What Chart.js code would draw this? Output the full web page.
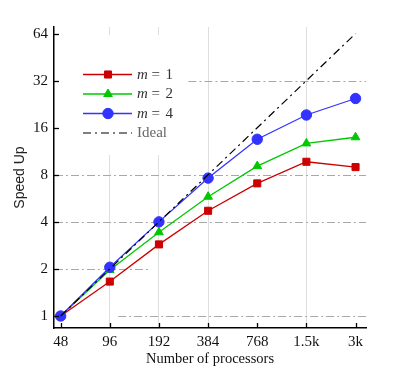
<!DOCTYPE html>
<html>
<head>
<meta charset="utf-8">
<script src="https://cdn.jsdelivr.net/npm/chart.js@4/dist/chart.umd.min.js"></script>
<style>
  html,body{margin:0;padding:0;background:#fff;}
  #wrap{width:415px;height:369px;position:relative;}
</style>
</head>
<body>
<div id="wrap"><canvas id="c" width="415" height="369"></canvas></div>
<script>
// ---- data ----
const procs = [48, 96, 192, 384, 768, 1536, 3072];
const xLabels = ['48', '96', '192', '384', '768', '1.5k', '3k'];
const yTicks = [1, 2, 4, 8, 16, 32, 64];
const speedM1 = [1, 1.66, 2.87, 4.71, 7.05, 9.69, 8.96];
const speedM2 = [1, 1.97, 3.43, 5.79, 9.09, 12.7, 13.9];
const speedM4 = [1, 2.05, 4.0, 7.62, 13.5, 19.3, 24.6];
const speedIdeal = [1, 2, 4, 8, 16, 32, 64];
const seriesNames = ['m = 1', 'm = 2', 'm = 4', 'Ideal'];

const pts = arr => arr.map((v, i) => ({x: procs[i], y: v}));
const SERIF = '"Liberation Serif", "DejaVu Serif", serif';

const RED = '#cc0000', GREEN = '#00c800', BLUE = '#3333ff';

// horizontal dash-dot guides (value, optional x-range in data units)
const guides = [
  {v: 1, from: 108},
  {v: 2, to: 172},
  {v: 4},
  {v: 8},
  {v: 32, from: 291}
];
const vGridAt = [96, 192, 384, 1536];

const deco = {
  id: 'deco',
  beforeDatasetsDraw(chart) {
    const {ctx, chartArea: a, scales: {x, y}} = chart;
    ctx.save();
    ctx.strokeStyle = '#a8a8a8';
    ctx.lineWidth = 1;
    ctx.setLineDash([8, 3, 2, 3]);
    guides.forEach(g => {
      const py = Math.round(y.getPixelForValue(g.v)) + 0.5;
      const x0 = g.from ? x.getPixelForValue(g.from) : a.left + 1;
      const x1 = g.to ? x.getPixelForValue(g.to) : a.right;
      ctx.beginPath(); ctx.moveTo(x0, py); ctx.lineTo(x1, py); ctx.stroke();
    });
    ctx.setLineDash([]);
    // legend box (white, masks grid)
    const L = a.left;
    ctx.fillStyle = '#fff';
    ctx.fillRect(L + 2, 35, 132, 120);
    // legend entries
    const ds = chart.data.datasets;
    const rows = [74.5, 94, 113.5, 133];
    const lx0 = L + 29, lx1 = L + 78, mx = L + 54;
    for (let i = 0; i < 4; i++) {
      const d = ds[i];
      const yy = rows[i];
      ctx.strokeStyle = d.borderColor;
      ctx.lineWidth = d.borderWidth;
      ctx.setLineDash(d.borderDash || []);
      ctx.beginPath(); ctx.moveTo(lx0, yy); ctx.lineTo(lx1, yy); ctx.stroke();
      ctx.setLineDash([]);
      if (d.pointRadius > 0) {
        ctx.fillStyle = d.backgroundColor; ctx.strokeStyle = d.borderColor;
        ctx.lineWidth = 1;
        Chart.helpers.drawPoint(ctx, {pointStyle: d.pointStyle, radius: d.pointRadius, rotation: 0, borderWidth: 1}, mx, yy);
      }
      ctx.textBaseline = 'middle';
      const tx = L + 83;
      if (i < 3) {
        const parts = seriesNames[i].split(' '); // ['m','=','1']
        ctx.fillStyle = '#333';
        ctx.font = 'italic 15px ' + SERIF;
        ctx.textAlign = 'left';
        ctx.fillText(parts[0], tx, yy + 0.5);
        ctx.font = '15px ' + SERIF;
        ctx.fillText(parts[1], tx + 14.5, yy + 0.5);
        ctx.fillText(parts[2], tx + 28.5, yy + 0.5);
      } else {
        ctx.fillStyle = '#666';
        ctx.font = '15px ' + SERIF;
        ctx.textAlign = 'left';
        ctx.fillText(seriesNames[i], tx, yy + 0.5);
      }
    }
    ctx.restore();
  },
  afterDatasetsDraw(chart) {
    const {ctx, chartArea: a, scales: {x, y}} = chart;
    ctx.save();
    ctx.strokeStyle = '#000';
    ctx.lineWidth = 1.3;
    x.ticks.forEach(t => {
      const px = Math.round(x.getPixelForValue(t.value)) + 0.5;
      ctx.beginPath(); ctx.moveTo(px, a.bottom); ctx.lineTo(px, a.bottom - 5); ctx.stroke();
    });
    y.ticks.forEach(t => {
      const py = Math.round(y.getPixelForValue(t.value)) + 0.5;
      ctx.beginPath(); ctx.moveTo(a.left, py); ctx.lineTo(a.left + 5, py); ctx.stroke();
    });
    ctx.restore();
  }
};

const lineDs = (label, data, color, style, r, order) => ({
  label, data: pts(data), borderColor: color, backgroundColor: color,
  borderWidth: 1.3, pointStyle: style, pointRadius: r, pointHoverRadius: r,
  pointBorderWidth: 1, pointBackgroundColor: color, pointBorderColor: color,
  tension: 0, order
});

new Chart(document.getElementById('c'), {
  type: 'line',
  data: {
    datasets: [
      lineDs(seriesNames[0], speedM1, RED, 'rect', 5.0, 3),
      lineDs(seriesNames[1], speedM2, GREEN, 'triangle', 5.0, 2),
      lineDs(seriesNames[2], speedM4, BLUE, 'circle', 5.2, 1),
      Object.assign(lineDs(seriesNames[3], speedIdeal, '#000', 'circle', 0, 0),
        {borderDash: [8, 4, 2, 4], borderWidth: 1.2})
    ]
  },
  options: {
    responsive: false,
    animation: false,
    events: [],
    layout: {padding: {top: 27, right: 49, bottom: 0, left: 0}},
    plugins: {legend: {display: false}, tooltip: {enabled: false}},
    scales: {
      x: {
        type: 'logarithmic',
        min: 43.7, max: 3560,
        afterBuildTicks: s => { s.ticks = procs.map(v => ({value: v})); },
        afterFit: s => { s.height = 41; },
        ticks: {
          autoSkip: false, maxRotation: 0, padding: 5,
          color: '#111', font: {family: SERIF, size: 15},
          callback: (v, i) => xLabels[i]
        },
        grid: {
          drawTicks: false,
          color: c => (c.tick && vGridAt.includes(c.tick.value)) ? '#dedede' : 'rgba(0,0,0,0)',
          lineWidth: 1
        },
        border: {display: true, color: '#000', width: 1.5},
        title: {
          display: true, text: 'Number of processors', color: '#111',
          font: {family: SERIF, size: 14.5}, padding: {top: 2, bottom: 1}
        }
      },
      y: {
        type: 'logarithmic',
        min: 0.838, max: 70.5,
        afterBuildTicks: s => { s.ticks = yTicks.map(v => ({value: v})); },
        afterFit: s => { s.width = 54; },
        ticks: {
          autoSkip: false, padding: 6,
          color: '#111', font: {family: SERIF, size: 15},
          callback: v => String(v)
        },
        grid: {display: false, drawTicks: false},
        border: {display: true, color: '#000', width: 1.5},
        title: {
          display: true, text: 'Speed Up', color: '#222',
          font: {family: '"Liberation Sans", Arial, sans-serif', size: 14}, padding: {top: 12, bottom: 0}
        }
      }
    }
  },
  plugins: [deco]
});
</script>
</body>
</html>
